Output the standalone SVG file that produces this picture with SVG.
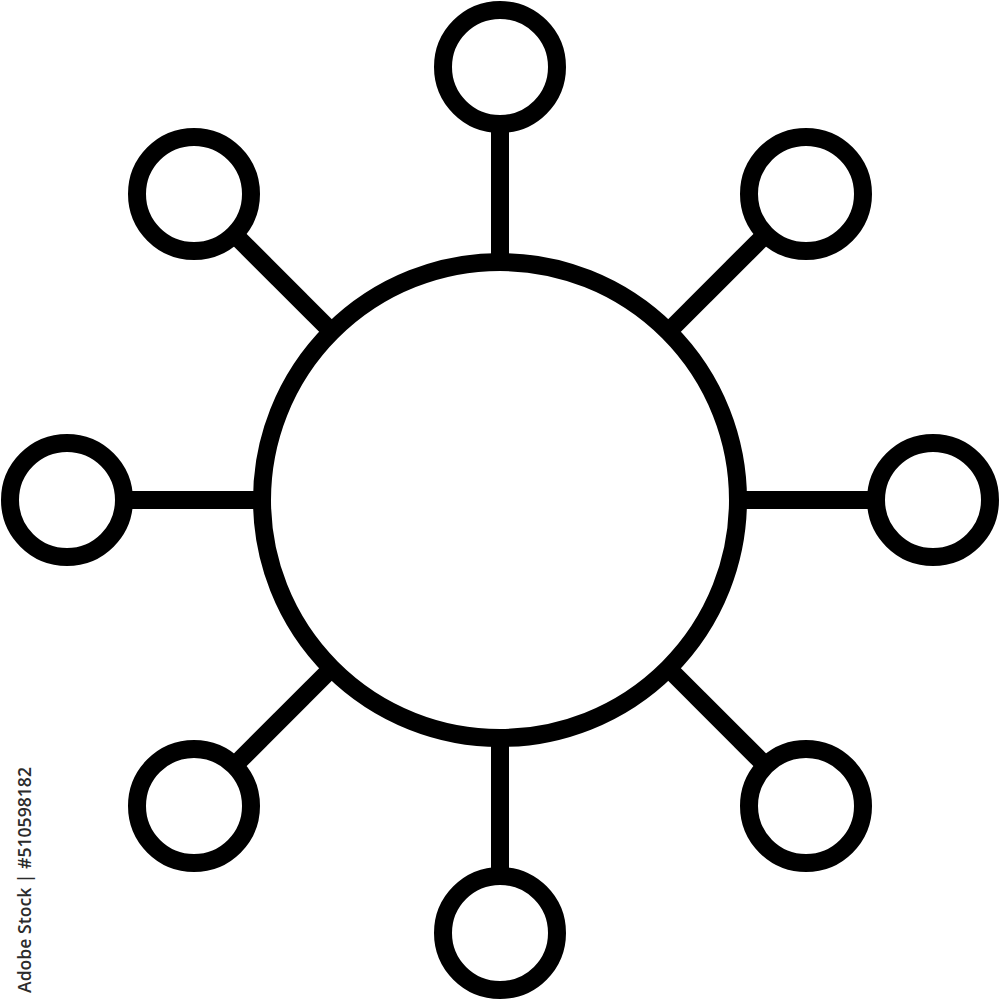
<svg xmlns="http://www.w3.org/2000/svg" width="1000" height="1000" viewBox="0 0 1000 1000">
<style>
.node{fill:#fff;stroke:#000;stroke-width:18}
.edge{stroke:#000;stroke-width:18;fill:none}
.wm{font-family:"Open Sans","Liberation Sans",sans-serif;font-size:18px;font-weight:600;fill:#2b2b2b}
</style>
<rect width="1000" height="1000" fill="#fff"/>
<g id="connectors">
<line class="edge" x1="500" y1="124" x2="500" y2="262"/>
<line class="edge" x1="500" y1="738" x2="500" y2="876"/>
<line class="edge" x1="124" y1="500" x2="262" y2="500"/>
<line class="edge" x1="738" y1="500" x2="876" y2="500"/>
<line class="edge" x1="234" y1="234" x2="332" y2="332"/>
<line class="edge" x1="766" y1="234" x2="668" y2="332"/>
<line class="edge" x1="234" y1="766" x2="332" y2="668"/>
<line class="edge" x1="766" y1="766" x2="668" y2="668"/>
</g>
<g id="hub"><circle class="node" cx="500" cy="500" r="238"/></g>
<g id="n-top"><circle class="node" cx="500" cy="67" r="57"/></g>
<g id="n-bottom"><circle class="node" cx="500" cy="933" r="57"/></g>
<g id="n-left"><circle class="node" cx="67" cy="500" r="57"/></g>
<g id="n-right"><circle class="node" cx="933" cy="500" r="57"/></g>
<g id="n-topleft"><circle class="node" cx="194" cy="194" r="57"/></g>
<g id="n-topright"><circle class="node" cx="806" cy="194" r="57"/></g>
<g id="n-bottomleft"><circle class="node" cx="194" cy="806" r="57"/></g>
<g id="n-bottomright"><circle class="node" cx="806" cy="806" r="57"/></g>
<text class="wm" transform="translate(31,993) rotate(-90)" textLength="226" lengthAdjust="spacingAndGlyphs">Adobe Stock | #510598182</text>
</svg>
